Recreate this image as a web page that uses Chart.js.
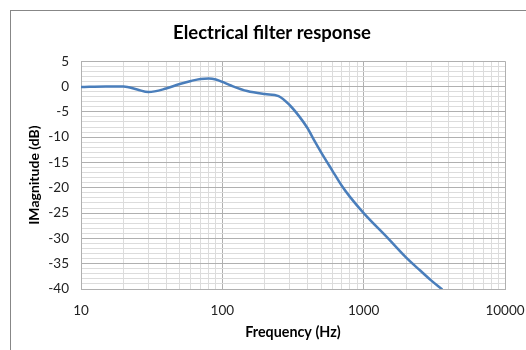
<!DOCTYPE html>
<html>
<head>
<meta charset="utf-8">
<script src="https://cdn.jsdelivr.net/npm/chart.js@4/dist/chart.umd.min.js"></script>
<style>
  html, body { margin: 0; padding: 0; background: #fff; overflow: hidden; }
  #wrap { position: relative; width: 526px; height: 350px; }
  #frame { position: absolute; left: 10px; top: 10px; width: 540px; height: 360px;
           border: 1px solid #878787; box-sizing: border-box; }
  canvas { position: absolute; left: 0; top: 0; }
</style>
</head>
<body>
<div id="wrap">
  <div id="frame"></div>
  <canvas id="chart" width="526" height="350"></canvas>
</div>
<script>
// ====== DATA ======
const freqHz = [10, 15, 20, 25, 30, 40, 50, 60, 70, 80, 90, 100, 115, 150, 200, 250, 300,
                350, 400, 450, 500, 600, 700, 800, 1000, 1500, 2000, 2500, 3000, 3600];
const magDb  = [-0.1, 0.0, 0.0, -0.6, -1.1, -0.4, 0.5, 1.1, 1.5, 1.6, 1.4, 0.9, 0.2, -0.9, -1.5, -1.9, -3.7,
                -5.9, -8.2, -10.8, -13.0, -16.6, -19.6, -21.8, -25.0, -30.1, -33.8, -36.3, -38.3, -40.1];
const xTicks = [10, 100, 1000, 10000];
const yTicks = [5, 0, -5, -10, -15, -20, -25, -30, -35, -40];

const FONT = 'Lato, "Open Sans", sans-serif';
const isDecade = v => Math.abs(Math.log10(v) - Math.round(Math.log10(v))) < 1e-6;

// ====== CHART ======
new Chart(document.getElementById('chart').getContext('2d'), {
  type: 'scatter',
  data: {
    datasets: [{
      data: freqHz.map((f, i) => ({ x: f, y: magDb[i] })),
      showLine: true,
      borderColor: '#4a7ebb',
      borderWidth: 2.5,
      pointRadius: 0,
      cubicInterpolationMode: 'monotone',
      fill: false
    }]
  },
  options: {
    responsive: false,
    animation: false,
    // left/right padding also centres the title box at x≈272
    layout: { padding: { left: 39, right: 21, top: 0, bottom: 0 } },
    plugins: {
      legend: { display: false },
      tooltip: { enabled: false },
      title: {
        display: true,
        text: 'Electrical filter response',
        color: '#000',
        font: { family: FONT, size: 18.5, weight: 'bold' },
        padding: { top: 22, bottom: 17 }
      }
    },
    scales: {
      x: {
        type: 'logarithmic',
        min: 10, max: 10000,
        afterFit: s => { s.height = 61; s.paddingLeft = 0; s.paddingRight = 0; },
        afterBuildTicks: s => {
          const t = [];
          for (let d = 10; d < 10000; d *= 10)
            for (let k = 1; k < 10; k++) t.push({ value: d * k });
          t.push({ value: 10000 });
          s.ticks = t;
        },
        grid: {
          drawTicks: false,
          color: c => isDecade(c.tick.value) ? '#b0b0b0' : '#dcdcdc',
          lineWidth: 1
        },
        border: { color: '#b0b0b0' },
        ticks: {
          autoSkip: false, maxRotation: 0, padding: 14,
          color: '#222',
          font: { family: FONT, size: 13.5 },
          callback: v => xTicks.includes(v) ? String(v) : ''
        },
        title: {
          display: true, text: 'Frequency (Hz)', color: '#000',
          font: { family: FONT, size: 14.3, weight: 'bold' },
          padding: { top: 0, bottom: 9 }
        }
      },
      y: {
        min: -40, max: 5,
        afterFit: s => { s.width = 42; },
        grid: {
          drawTicks: false,
          color: c => c.tick.value % 5 === 0 ? '#b0b0b0' : '#dcdcdc',
          lineWidth: 1
        },
        border: { color: '#b0b0b0' },
        ticks: {
          stepSize: 1, autoSkip: false, padding: 12,
          color: '#222',
          font: { family: FONT, size: 13.5 },
          callback: v => yTicks.includes(v) ? String(v) : ''
        },
        title: {
          display: true, text: 'IMagnitude (dB)', color: '#000',
          font: { family: FONT, size: 14, weight: 'bold' },
          padding: { top: -13, bottom: 0 }
        }
      }
    }
  }
});
</script>
</body>
</html>
